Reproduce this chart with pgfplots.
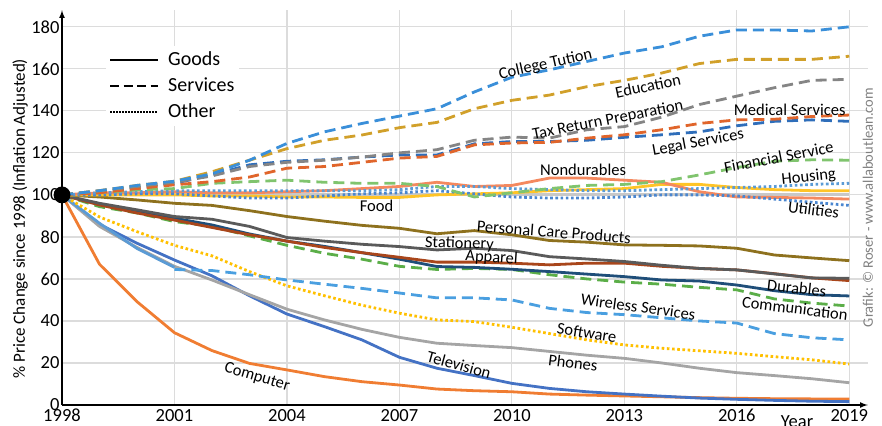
\documentclass[border=0pt]{standalone}
\usepackage{pgfplots}
\pgfplotsset{compat=1.18}
\usepackage{pgfplotstable}
\usepackage{fontspec}
\setmainfont{Carlito}
\usetikzlibrary{arrows.meta}

\definecolor{cCT}{HTML}{3A8FD9}
\definecolor{cED}{HTML}{D1A02A}
\definecolor{cTAX}{HTML}{858585}
\definecolor{cMED}{HTML}{E0652B}
\definecolor{cLEG}{HTML}{2F6EBA}
\definecolor{cFIN}{HTML}{80C46E}
\definecolor{cCOM}{HTML}{5BAE48}
\definecolor{cWIR}{HTML}{4A9FE0}
\definecolor{cHOU}{HTML}{5B9BD5}
\definecolor{cUTI}{HTML}{4A86D0}
\definecolor{cSOF}{HTML}{FFC000}
\definecolor{cNON}{HTML}{F4895F}
\definecolor{cFOOD}{HTML}{FFC427}
\definecolor{cALL}{HTML}{C8C8C8}
\definecolor{cPCP}{HTML}{8E711E}
\definecolor{cSTA}{HTML}{5A5A5A}
\definecolor{cAPP}{HTML}{A9461B}
\definecolor{cDUR}{HTML}{1F4E79}
\definecolor{cTV}{HTML}{4472C4}
\definecolor{cPHO}{HTML}{A5A5A5}
\definecolor{cCMP}{HTML}{F07D32}
\definecolor{cWIRs}{HTML}{5B9BD5}
\definecolor{gridc}{HTML}{DCDCDC}
\definecolor{grafc}{HTML}{7F7F7F}

\pgfplotstableread{
year CT ED TAX MED LEG FIN COM WIR HOU UTI SOF NON FOOD ALL PCP STA APP DUR TV PHO CMP
1998 100 100 100 100 100 100 100 nan 100 100 100 100 100 100 100 100 100 100 100 100 100
1999 102 102 102 101 101.5 101 94.4 nan 101 100 89.5 101 100 100 99 96 95.2 95.5 86 85 67
2000 104.5 104.5 104 103 103.5 102.4 91.4 nan 101.5 100.5 82.5 101 100 100 97.6 92.9 91.4 92.3 77 75 49.2
2001 106.5 106.5 106 104.8 105.5 103 87.3 64.5 102 100.5 76 101.5 100 100 96 89.7 88 88.9 69 66 34.4
2002 110 111 109 106.3 109.5 105.5 85 64 102 99.5 71 101 99.5 100 95 88.4 84.5 85.7 61.5 59.5 25.9
2003 116.5 116.5 113.5 108.5 114.3 106.3 80.5 62 102 98.5 63.5 101 99.5 100 92.5 85 81 81.4 52 52.5 19.8
2004 124.5 122 115.5 112.7 116 107 76 59.5 102 98.5 56.7 101.5 99 100 89.7 79.7 78 78 43.3 45.6 16.7
2005 130 126 116.5 113.5 116.7 106 72.2 57.5 102 99.5 52 102 99 100 87.5 78 75 75.5 37.3 40.5 13.5
2006 134 128.5 118 115.5 118 105.5 69.4 55.5 102 100.5 47.5 103 98.8 100 85.5 76.5 72.5 72.5 31 36 11.1
2007 137.5 132 120 117.5 119 105.5 66 53.3 102.5 101 43.7 104 98.8 100 84.1 75.4 70.3 69.4 22.7 32.2 9.5
2008 141 134.5 121.5 118.3 119 104 64.5 51 104 102 40.5 106 100 100 81.5 73.8 68 65.9 17.5 29.4 7.6
2009 149 141 126 123.8 124.3 99 65 51 104 100.5 39.7 104 100.5 100 83 74.6 68 65.5 14 28.3 6.8
2010 156 145 127.5 124.7 125.4 101 64.5 50 103 99 37 104.5 101 100 81 73.5 67.5 64.6 10.3 27.3 6.3
2011 159.5 147.5 127 125 125.4 103 62 46 102.5 98.5 34 108 102 100 78.3 70.6 66.7 63.5 7.9 25.5 5.2
2012 163.5 151.5 131 127 126 104.5 60 44 102 98.5 31 108 102.5 100 77.5 69.5 67.5 62.3 6.3 23.7 4.7
2013 167.5 154.5 132.5 128.6 127.4 105 58.5 43 102 99 28.6 107 103 100 76.2 68.3 67.5 61.1 5.2 22.2 4.3
2014 170.5 158 137 131 128.6 106.3 57.5 41.5 102.5 100 27 106 105 100 76 66.5 66 59.5 4.2 20 3.9
2015 175.5 162.5 143 134 130 109.5 56 40 103 100 25.8 101.5 105 100 75.7 65 65 59 3.3 17.5 3.5
2016 178.5 164.5 147 135.7 132.9 113 54.8 39 103.5 99.5 24.6 99 103.5 100 74.6 64.3 64.3 57.1 2.7 15.4 3.2
2017 178.5 164.5 151 136 135 116 50.5 34 104 98 23 98.8 102.5 100 71.4 62.4 62.5 54.4 2.2 14 3.0
2018 178 164.5 154.5 137.3 135.7 116.7 48.5 32 105 96.5 21.5 98.5 102 100 70 60.5 60.5 52.5 1.8 12.5 2.9
2019 180 166 155 138 135 116.5 47.1 31 105.5 95 19.5 98 102 100 68.7 60.3 59.2 51.9 1.6 10.6 2.9
}\prices

\newcommand\lab{\fontsize{16.5}{18}\selectfont}
\newcommand\tck{\fontsize{18.5}{20}\selectfont}

\begin{document}
\begin{tikzpicture}
\begin{axis}[
  width=806pt, height=395pt, scale only axis,
  xmin=1998, xmax=2019.5, ymin=0, ymax=188,
  axis lines=left,
  axis line style={line width=1.8pt, -{Latex[length=8pt,width=6pt]}},
  xtick={1998,2001,...,2019}, ytick={0,20,...,180},
  grid=major, grid style={line width=1.2pt, gridc},
  major tick length=0pt,
  clip=false,
  xticklabel style={font=\tck, yshift=-0.5pt},
  yticklabel style={font=\tck, xshift=1pt},
  /pgf/number format/1000 sep={},
  /pgf/number format/assume math mode=true,
  legend style={at={(rel axis cs:0.0546,0.909)}, anchor=north west, draw=none, fill=white,
    font=\fontsize{20}{24}\selectfont, inner sep=3pt, row sep=4pt,
    nodes={inner sep=2pt, text height=14pt, text depth=4pt},
    /tikz/every odd column/.append style={column sep=7pt}},
  legend cell align=left,
  legend image code/.code={\draw[#1] (0pt,0pt) -- (48pt,0pt);},
  every axis plot/.append style={line width=2.8pt},
  sv/.style={dash pattern=on 11pt off 6pt},
  ot/.style={dash pattern=on 2.6pt off 2.6pt},
]
\addlegendimage{black, line width=2pt}
\addlegendentry{Goods}
\addlegendimage{black, line width=2pt, dash pattern=on 9pt off 4.5pt}
\addlegendentry{Services}
\addlegendimage{black, line width=2pt, dash pattern=on 1.5pt off 1.5pt}
\addlegendentry{Other}

\addplot[cALL] table[x=year,y=ALL] {\prices};
\addplot[cCMP] table[x=year,y=CMP] {\prices};
\addplot[cTV] table[x=year,y=TV] {\prices};
\addplot[cPHO] table[x=year,y=PHO] {\prices};
\addplot[cWIRs] coordinates {(1998,100) (1999,86.5) (2000,74.5) (2001,65.5)};
\addplot[cSOF, ot] table[x=year,y=SOF] {\prices};
\addplot[cWIR, sv] table[x=year,y=WIR] {\prices};
\addplot[cCOM, sv] table[x=year,y=COM] {\prices};
\addplot[cDUR] table[x=year,y=DUR] {\prices};
\addplot[cAPP] table[x=year,y=APP] {\prices};
\addplot[cSTA] table[x=year,y=STA] {\prices};
\addplot[cPCP] table[x=year,y=PCP] {\prices};
\addplot[cFOOD] table[x=year,y=FOOD] {\prices};
\addplot[cNON] table[x=year,y=NON] {\prices};
\addplot[cUTI, ot] table[x=year,y=UTI] {\prices};
\addplot[cHOU, ot] table[x=year,y=HOU] {\prices};
\addplot[cFIN, sv] table[x=year,y=FIN] {\prices};
\addplot[cLEG, sv] table[x=year,y=LEG] {\prices};
\addplot[cMED, sv] table[x=year,y=MED] {\prices};
\addplot[cTAX, sv] table[x=year,y=TAX] {\prices};
\addplot[cED, sv] table[x=year,y=ED] {\prices};
\addplot[cCT, sv] table[x=year,y=CT] {\prices};
\addplot[only marks, mark=*, mark size=7pt, black] coordinates {(1998,100)};

\node[font=\lab, rotate=12.5] at (axis cs:2010.9,162) {College Tution};
\node[font=\lab, rotate=12] at (axis cs:2013.63,151.9) {Education};
\node[font=\lab, rotate=11] at (axis cs:2012.56,135.4) {Tax Return Preparation};
\node[font=\lab] at (axis cs:2017.41,140.5) {Medical Services};
\node[font=\lab, rotate=10.5] at (axis cs:2014.97,124.8) {Legal Services};
\node[font=\lab, rotate=10.8] at (axis cs:2017.12,118) {Financial Service};
\node[font=\lab, rotate=6] at (axis cs:2017.92,108.5) {Housing};
\node[font=\lab, rotate=-7] at (axis cs:2018.05,92.9) {Utilities};
\node[font=\lab] at (axis cs:2011.9,111.9) {Nondurables};
\node[font=\lab] at (axis cs:2006.39,94.8) {Food};
\node[font=\lab, rotate=-4.5] at (axis cs:2011.12,82.4) {Personal Care Products};
\node[font=\lab, rotate=-2] at (axis cs:2008.6,76.7) {Stationery};
\node[font=\lab, rotate=-4] at (axis cs:2009.46,70) {Apparel};
\node[font=\lab, rotate=-6] at (axis cs:2017.6,55.7) {Durables};
\node[font=\lab, rotate=-6.7] at (axis cs:2017.55,46) {Communication};
\node[font=\lab, rotate=-7.8] at (axis cs:2013.37,46.7) {Wireless Services};
\node[font=\lab, rotate=-9] at (axis cs:2012,34.3) {Software};
\node[font=\lab, rotate=-7] at (axis cs:2011.63,20) {Phones};
\node[font=\lab, rotate=-15.5] at (axis cs:2008.59,19) {Television};
\node[font=\lab, rotate=-16.5] at (axis cs:2003.2,13.2) {Computer};

\coordinate (ll) at (rel axis cs:0,0);
\coordinate (yl) at (rel axis cs:0,0.472);
\coordinate (gr) at (rel axis cs:1,0.5);
\coordinate (yr) at (rel axis cs:0.912,0);
\end{axis}
\node[rotate=90, font=\fontsize{17}{19}\selectfont] at ([xshift=-42pt]yl) {\% Price Change since 1998 (Inflation Adjusted)};
\node[rotate=90, font=\fontsize{14.5}{16}\selectfont, text=grafc] at ([xshift=0pt]gr) {Grafik: © Roser - www.allaboutlean.com};
\node[font=\tck] at ([yshift=-17pt]yr) {Year};
\pgfresetboundingbox
\path ([shift={(-62pt,-20pt)}]ll) rectangle ([shift={(820pt,405pt)}]ll);
\end{tikzpicture}
\end{document}
